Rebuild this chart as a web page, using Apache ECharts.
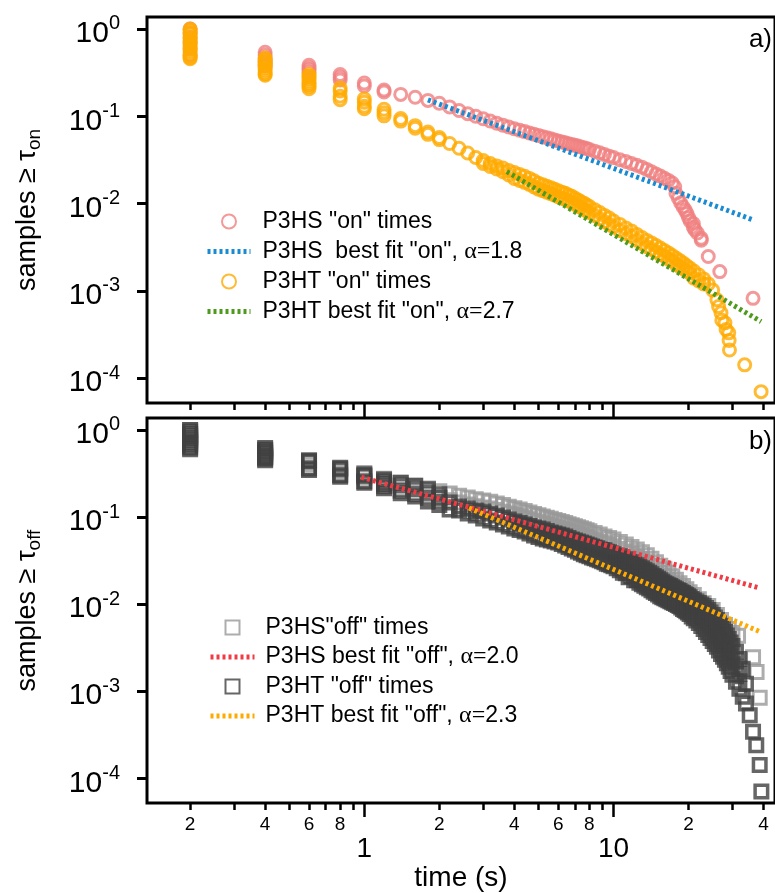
<!DOCTYPE html>
<html><head><meta charset="utf-8">
<script src="https://cdn.jsdelivr.net/npm/echarts@6.0.0/dist/echarts.min.js"></script>
<style>html,body{margin:0;padding:0;background:#fff;}#c{width:775px;height:893px;}</style>
</head><body><div id="c"></div>
<script>
// ---------------- data ----------------
// Each time value carries one reading or a stack of readings (ties at the same time).
const onP3HS_t = [0.2,0.4,0.6,0.8,1.0,1.2,1.4,1.6,1.8,2.0,2.2,2.4,2.6,2.8,3.0,3.2,3.4,3.6,3.8,4.0,4.2,4.4,4.6,4.8,5.0,5.2,5.4,5.6,5.8,6.0,6.2,6.4,6.6,6.8,7.0,7.2,7.4,7.6,7.8,8.0,8.4,8.8,9.2,9.6,10,10.6,11.2,11.8,12.4,13,13.6,14.2,14.8,15.4,16,16.6,17.2,17.6,17.8,18.2,18.6,19.0,19.4,19.7,20.0,20.3,20.9,21.2,21.7,22.5,24.0,26.7,36.3];
const onP3HS_v = [[1.0,0.9,0.8,0.7,0.6,0.5],[0.54,0.5,0.46,0.42,0.38],[0.384,0.36,0.34,0.32],[0.30,0.28,0.26],[0.24,0.222],[0.2,0.19],0.178,0.165,0.152,0.141,0.128,0.1165,0.107,0.1,0.0936,0.0883,0.0834,0.0791,0.0752,0.0719,0.0691,0.0667,0.0643,0.0621,0.0603,0.0584,0.0567,0.0551,0.0535,0.0521,0.0508,0.0497,0.0485,0.0475,0.0464,0.0455,0.0445,0.0436,0.0427,0.0417,0.0398,0.0381,0.0364,0.0349,0.0336,0.0318,0.0304,0.0288,0.0275,0.0261,0.0246,0.0231,0.0218,0.0207,0.0195,0.0184,0.0172,0.0156,0.0131,0.0115,0.0102,0.0092,0.0084,0.0077,0.0069,0.0063,[0.0059,0.0054],0.005,0.0046,[0.004,0.0038],0.00247,0.00166,0.00082];

const onP3HT_t = [0.2,0.4,0.6,0.8,1.0,1.2,1.4,1.6,1.8,2.0,2.2,2.4,2.6,2.8,3.0,3.2,3.4,3.6,3.8,4.0,4.2,4.4,4.6,4.8,5.0,5.2,5.4,5.6,5.8,6.0,6.2,6.4,6.6,6.8,7.0,7.2,7.4,7.6,7.8,8.0,8.4,8.8,9.2,9.6,10,10.6,11.2,11.8,12.4,13,13.6,14.2,14.8,15.4,16,16.6,17.2,17.8,18.4,19,19.6,20.2,21,22,23,24,25,26,26.4,27,27.2,28,28.3,29,29.1,29.2,33.6,39.1];
const onP3HT_v = [[1.0,0.95,0.9,0.85,0.8,0.75,0.71,0.67,0.63,0.59,0.56,0.53,0.5,0.47,0.457],[0.465,0.44,0.42,0.40,0.38,0.36,0.34,0.32,0.305,0.295],[0.30,0.285,0.27,0.255,0.24,0.23,0.22,0.207],[0.211,0.195,0.17,0.155],[0.158,0.145,0.13,0.122],[0.12,0.11,0.101],[0.094,0.088],[0.078,0.073],[0.066,0.062],[0.057,0.054],0.0488,0.043,0.0379,0.0337,
  [0.0311,0.0288],[0.0288,0.0266],[0.027,0.0249],[0.0255,0.0232],[0.0239,0.0213],[0.0227,0.0194],[0.0215,0.0184],[0.0205,0.0175],[0.0194,0.0166],[0.0182,0.0155],[0.0171,0.0146],[0.0164,0.014],[0.0158,0.0135],[0.0152,0.013],[0.0146,0.0125],[0.014,0.012],[0.0135,0.0115],[0.0131,0.0112],[0.0125,0.0107],[0.0121,0.0103],[0.0115,0.0098],[0.011,0.0094],[0.0105,0.009],[0.0101,0.0086],[0.00964,0.0082],[0.00926,0.0079],[0.00851,0.0073],[0.0079,0.0067],[0.00731,0.0062],[0.00684,0.0058],[0.00632,0.0054],[0.00577,0.0049],[0.00526,0.0045],[0.00486,0.0042],[0.00443,0.0038],[0.00409,0.0035],[0.00378,0.0032],[0.00354,0.003],[0.00331,0.0028],[0.0031,0.0026],[0.0029,0.0025],[0.00272,0.0023],[0.00254,0.0022],[0.00238,0.002],[0.00223,0.0019],[0.00209,0.0018],[0.00195,0.0017],[0.00183,0.0016],[0.00169,0.0014],[0.00152,0.0013],[0.00137,0.0012],
  0.0012,0.00102,0.00079,0.00066,0.00056,0.00046,0.00043,0.00036,0.00033,0.00027,0.00021,0.000142,0.00007];

const fitOnP3HS_t = [1.8, 36.3];
const fitOnP3HS_v = [0.154, 0.0065];
const fitOnP3HT_t = [3.73, 39.1];
const fitOnP3HT_v = [0.0232, 0.000444];

const offP3HS_t = [0.2,0.4,0.6,0.8,1.0,1.2,1.4,1.6,1.8,2.0,2.2,2.4,2.6,2.8,3.0,3.2,3.4,3.6,3.8,4.0,4.2,4.4,4.6,4.8,5.0,5.2,5.4,5.6,5.8,6.0,6.2,6.4,6.6,6.8,7.0,7.2,7.4,7.6,7.8,8.0,8.4,8.8,9.2,9.6,10,10.6,11.2,11.8,12.4,13,13.6,14.2,14.8,15.4,16,16.6,17.2,17.8,18.4,19,19.6,20.2,21,22,23,24,25,26,27,28,29,30,31.6,36.3,37.5,38.6];
const offP3HS_v = [[1.0,0.9,0.8,0.7,0.62],[0.6,0.55,0.5,0.47],[0.44,0.4,0.37],[0.36,0.33,0.31],[0.32,0.3,0.285],[0.275,0.245],[0.248,0.21],[0.229,0.193],[0.212,0.178],[0.198,0.166],[0.186,0.156],[0.176,0.147],[0.167,0.139],[0.16,0.133],[0.155,0.129],[0.15,0.125],[0.1434,0.12],[0.137,0.115],[0.1315,0.11],[0.1264,0.106],[0.1217,0.102],[0.117,0.098],[0.1125,0.094],[0.108,0.091],[0.1045,0.088],[0.1013,0.085],[0.098,0.082],[0.0953,0.08],[0.0925,0.077],[0.09,0.075],[0.0875,0.073],[0.0851,0.071],[0.0828,0.069],[0.0805,0.067],[0.0783,0.065],[0.0762,0.064],[0.0742,0.062],[0.0723,0.06],[0.0705,0.059],[0.0688,0.057],[0.0656,0.055],[0.0628,0.052],[0.0598,0.05],[0.0575,0.048],[0.0553,0.046],[0.0518,0.043],[0.0485,0.04],[0.0454,0.038],[0.0425,0.035],[0.0393,0.033],[0.0363,0.03],[0.0331,0.0275],[0.0302,0.025],[0.0275,0.023],[0.0251,0.021],[0.0229,0.019],[0.0209,0.0174],[0.0191,0.0159],[0.0174,0.0145],[0.0161,0.0134],[0.0148,0.0123],[0.0137,0.0114],[0.0127,0.0106],[0.0114,0.0095],[0.01026,0.0085],[0.0095,0.0079],[0.00853,0.0071],[0.00748,0.0062],[0.00656,0.0055],[0.00575,0.0048],0.00518,0.00466,0.00434,0.00246,0.00166,0.00084];

const offP3HT_t = [0.2,0.4,0.6,0.8,1.0,1.2,1.4,1.6,1.8,2.0,2.2,2.4,2.6,2.8,3.0,3.2,3.4,3.6,3.8,4.0,4.2,4.4,4.6,4.8,5.0,5.2,5.4,5.6,5.8,6.0,6.2,6.4,6.6,6.8,7.0,7.2,7.4,7.6,7.8,
  8.0,8.2,8.4,8.6,8.8,9.0,9.2,9.4,9.6,9.8,10,10.3,10.6,10.9,11.2,11.5,11.8,12.1,12.4,12.7,13,13.3,13.6,13.9,14.2,14.5,14.8,15.1,15.4,15.7,16,16.3,16.6,16.9,17.2,17.5,17.8,18.1,18.4,18.7,19,19.3,19.6,19.9,20.2,20.6,21,21.5,22,22.5,23,23.5,24,24.5,25,25.5,26,26.5,27,27.5,28,28.5,29,29.5,30,31,32,33,34,35.2,36.3,37.4,38.6,39.2];
const offP3HT_v = [[1.0,0.95,0.9,0.85,0.8,0.76,0.72,0.68,0.64,0.6],[0.62,0.59,0.56,0.535,0.51,0.49,0.47,0.45],[0.45,0.435,0.36,0.346],[0.368,0.354,0.302,0.29],[0.309,0.298,0.258,0.248],[0.27,0.255,0.24,0.225,0.2134],[0.248,0.23,0.2,0.187],[0.229,0.21,0.183,0.1716],[0.208,0.19,0.165,0.1504],[0.1823,0.166,0.15,0.1378],[0.1465,0.1218],[0.1318,0.1187],[0.125,0.1096],[0.1187,0.104],[0.1156,0.0961],[0.1096,0.0912],[0.104,0.0865],[0.0987,0.082],[0.0936,0.0779],[0.0889,0.0739],[0.0854,0.071],[0.082,0.0683],[0.0789,0.0648],[0.0759,0.0615],[0.0739,0.0591],[0.072,0.0568],[0.0692,0.0553],[0.0665,0.0539],[0.0648,0.0525],[0.0631,0.0511],[0.0615,0.0491],[0.0599,0.0472],[0.0575,0.0454],[0.0553,0.0436],[0.0539,0.042],[0.0525,0.0403],[0.0511,0.0388],[0.0498,0.0373],[0.0485,0.0363],
  [0.0472,0.0354],[0.046,0.0344],[0.0448,0.0336],[0.0437,0.0327],[0.0425,0.0318],[0.0418,0.031],[0.0414,0.0302],[0.0399,0.0291],[0.0393,0.0286],[0.0381,0.0279],[0.0373,0.0272],
  [0.0358,0.0304,0.0258],[0.0354,0.0294,0.0245],[0.0331,0.0275,0.0229],[0.0327,0.0272,0.0226],[0.0306,0.0249,0.0204],[0.0302,0.0251,0.0209],[0.0286,0.0232,0.0188],[0.0279,0.0229,0.0188],[0.0267,0.0217,0.0176],[0.0258,0.0209,0.0169],[0.0248,0.0201,0.0163],[0.0238,0.0193,0.0156],[0.0229,0.0186,0.0151],[0.022,0.0178,0.0144],[0.021,0.0171,0.0139],[0.0204,0.0165,0.0134],[0.0195,0.0158,0.0129],[0.0188,0.0152,0.0123],[0.018,0.0147,0.012],[0.0174,0.0143,0.0117],[0.0169,0.0139,0.0114],[0.0165,0.0135,0.0111],[0.0161,0.0132,0.0108],[0.0156,0.0128,0.0105],[0.0152,0.0125,0.0103],[0.0148,0.0122,0.01],[0.0144,0.0119,0.00975],[0.0141,0.0116,0.0095],[0.0137,0.0112,0.00912],[0.0134,0.0108,0.00877],[0.013,0.0105,0.00853],[0.0127,0.0103,0.0083],[0.0123,0.00995,0.008],[0.012,0.0096,0.00769],[0.0115,0.0091,0.0072],[0.0111,0.00877,0.0069],[0.0107,0.0083,0.00648],[0.0103,0.00789,0.00607],[0.00987,0.00745,0.00561],[0.0095,0.00701,0.00518],[0.009,0.00656,0.00479],[0.00853,0.00615,0.00442],[0.008,0.00573,0.00409],[0.00748,0.00532,0.00378],[0.00701,0.00495,0.00349],[0.00656,0.0046,0.00323],[0.00607,0.00423,0.00294],[0.00561,0.00388,0.00268],[0.00518,0.00358,0.00248],[0.00479,0.00331,0.00229],[0.00437,0.00302,0.00209],[0.00398,0.00275,0.00191],[0.00363,0.0025,0.00171],[0.00331,0.00226,0.00154],[0.00283,0.00191,0.00128],[0.00235,0.00158,0.00107],[0.00181,0.000865],[0.00122,0.00072],
  0.000529,0.000342,0.00024,0.000142,0.0000705];

const fitOffP3HS_t = [0.973, 38.0];
const fitOffP3HS_v = [0.286, 0.0155];
const fitOffP3HT_t = [2.63, 39.2];
const fitOffP3HT_v = [0.127, 0.00475];

// tick marks / labels
const xTicksMinor = [0.2,0.3,0.4,0.5,0.6,0.7,0.8,0.9,2,3,4,5,6,7,8,9,20,30,40];
const xLabelsMinor = [0.2,0.4,0.6,0.8,2,4,6,8,20,40];
const xTicksMajor = [1,10];
const yDecades = [-4,-3,-2,-1,0];

const names = {
  a1:'P3HS "on" times', a2:'P3HS  best fit "on", α=1.8', a3:'P3HT "on" times', a4:'P3HT best fit "on", α=2.7',
  b1:'P3HS"off" times', b2:'P3HS best fit "off", α=2.0', b3:'P3HT "off" times', b4:'P3HT best fit "off", α=2.3'
};

// ---------------- layout / styling ----------------
const FONT = "'Liberation Sans', Arial, Helvetica, sans-serif";
const X_LOG_MIN = -0.872, X_LOG_MAX = 1.648;
const Y_LOG_MIN = -4.285, Y_LOG_MAX = 0.137;

function toPairs(t, v){
  const out = [];
  t.forEach((x,i)=>{ (Array.isArray(v[i]) ? v[i] : [v[i]]).forEach(y=>out.push([x,y])); });
  return out;
}
const log10 = Math.log10;
function mantissa(v){ const t = Math.pow(10, v); const e = Math.floor(v + 1e-9); return String(Math.round(t / Math.pow(10, e))); }

function xAxesFor(grid, withLabels){
  const base = {type:'value', gridIndex:grid, min:X_LOG_MIN, max:X_LOG_MAX, position:'bottom',
    axisLine:{show:false, onZero:false}, splitLine:{show:false}};
  return [
    {type:'log', gridIndex:grid, min:Math.pow(10,X_LOG_MIN), max:Math.pow(10,X_LOG_MAX), show:false},
    Object.assign({}, base, {
      axisTick:{show:true, inside:false, length:7, lineStyle:{color:'#000', width:2.5}, customValues:xTicksMinor.map(log10)},
      axisLabel: withLabels ? {show:true, customValues:xLabelsMinor.map(log10), formatter:mantissa, fontSize:19, color:'#000', fontFamily:FONT, margin:12} : {show:false}
    }),
    Object.assign({}, base, {
      axisTick:{show:true, inside:false, length:14, lineStyle:{color:'#000', width:2.5}, customValues:xTicksMajor.map(log10)},
      axisLabel: withLabels ? {show:true, customValues:xTicksMajor.map(log10), formatter:v=>String(Math.round(Math.pow(10,v))), fontSize:28, color:'#000', fontFamily:FONT, margin:32} : {show:false},
      name: withLabels ? 'time (s)' : '', nameLocation:'middle', nameGap:59,
      nameTextStyle:{fontSize:28, color:'#000', fontFamily:FONT}
    })
  ];
}
function yAxesFor(grid, sub){
  return [
    {type:'log', gridIndex:grid, min:Math.pow(10,Y_LOG_MIN), max:Math.pow(10,Y_LOG_MAX), show:false},
    {type:'value', gridIndex:grid, min:Y_LOG_MIN, max:Y_LOG_MAX, position:'left',
      axisLine:{show:false, onZero:false}, splitLine:{show:false},
      axisTick:{show:true, length:10, lineStyle:{color:'#000', width:3}, customValues:yDecades},
      axisLabel:{show:true, customValues:yDecades, margin:27,
        formatter:v=>'{b|10}{s|' + Math.round(v) + '}',
        rich:{b:{fontSize:30, fontFamily:FONT, color:'#000', lineHeight:30, padding:[10,0,0,0]},
              s:{fontSize:20, fontFamily:FONT, color:'#000', lineHeight:20, verticalAlign:'top'}}},
      name:'{m|samples ≥ τ}{sub|' + sub + '}', nameLocation:'middle', nameGap:103, nameRotate:90,
      nameTextStyle:{rich:{m:{fontSize:27, fontFamily:FONT, color:'#000', lineHeight:32},
                           sub:{fontSize:19, fontFamily:FONT, color:'#000', lineHeight:19, verticalAlign:'bottom'}}}}
  ];
}

function legendFmt(name){
  if (name.indexOf('α=') >= 0){
    const parts = name.split('α=');
    return '{t|' + parts[0] + '}{g|α=}{u|' + parts[1] + '}';
  }
  return '{t|' + name + '}';
}
const lineIconHidden = {color:'rgba(0,0,0,0)', borderColor:'rgba(0,0,0,0)', borderWidth:0, opacity:0};
function legendFor(items, left, top, iw, gap, pad){
  return {data:items, orient:'vertical', left:left, top:top, itemWidth:iw, itemHeight:14, itemGap:gap, padding:0,
    selectedMode:false, formatter:legendFmt,
    lineStyle:{width:5, type:[3,3]},
    textStyle:{color:'#000', fontFamily:FONT, fontSize:23,
      rich:{t:{fontSize:23, fontFamily:FONT, color:'#000', lineHeight:22, padding:[0,0,0,pad]},
            u:{fontSize:23, fontFamily:FONT, color:'#000', lineHeight:22},
            g:{fontSize:24, fontFamily:"'Liberation Serif','DejaVu Serif',serif", color:'#000', lineHeight:22}}}};
}
const SQUARE = 'path://M0,0H10V10H0Z';

const ringStyle = (c,w) => ({color:'rgba(0,0,0,0)', borderColor:c, borderWidth:w});
const dotted = c => ({color:c, width:5, type:[3,3]});

const option = {
  animation:false,
  backgroundColor:'#fff',
  title:[
    {text:'a)', right:3, top:27, padding:0, textStyle:{fontSize:26, fontWeight:'normal', fontFamily:FONT, color:'#000'}},
    {text:'b)', right:3, top:429, padding:0, textStyle:{fontSize:26, fontWeight:'normal', fontFamily:FONT, color:'#000'}}
  ],
  grid:[
    {left:147, top:17, width:630, height:386, show:true, borderColor:'#000', borderWidth:3, backgroundColor:'rgba(0,0,0,0)'},
    {left:147, top:418, width:630, height:387, show:true, borderColor:'#000', borderWidth:3, backgroundColor:'rgba(0,0,0,0)'}
  ],
  xAxis: xAxesFor(0,false).concat(xAxesFor(1,true)),
  yAxis: yAxesFor(0,'on').concat(yAxesFor(1,'off')),
  legend:[
    legendFor([
      {name:names.a1, itemStyle:{borderWidth:2}},
      {name:names.a2, itemStyle:lineIconHidden},
      {name:names.a3, itemStyle:{borderWidth:2}},
      {name:names.a4, itemStyle:lineIconHidden}], 205, 210, 43, 6.5, 7),
    legendFor([
      {name:names.b1, icon:SQUARE, itemStyle:{borderWidth:2}},
      {name:names.b2, itemStyle:lineIconHidden},
      {name:names.b3, icon:SQUARE, itemStyle:{borderWidth:2}},
      {name:names.b4, itemStyle:lineIconHidden}], 208, 616, 44, 6, 6)
  ],
  series:[
    {name:names.a1, type:'scatter', xAxisIndex:0, yAxisIndex:0, symbol:'circle', symbolSize:12, itemStyle:ringStyle('#f08080',3), data:toPairs(onP3HS_t,onP3HS_v), silent:true},
    {name:names.a2, type:'line', xAxisIndex:0, yAxisIndex:0, symbol:'none', lineStyle:dotted('#1a8bd2'), itemStyle:{color:'#1a8bd2'}, data:toPairs(fitOnP3HS_t,fitOnP3HS_v), silent:true},
    {name:names.a3, type:'scatter', xAxisIndex:0, yAxisIndex:0, symbol:'circle', symbolSize:12, itemStyle:ringStyle('#ffaa00',3), data:toPairs(onP3HT_t,onP3HT_v), silent:true},
    {name:names.a4, type:'line', xAxisIndex:0, yAxisIndex:0, symbol:'none', lineStyle:dotted('#4e9a1c'), itemStyle:{color:'#4e9a1c'}, data:toPairs(fitOnP3HT_t,fitOnP3HT_v), silent:true},
    {name:names.b1, type:'scatter', xAxisIndex:3, yAxisIndex:2, symbol:'rect', symbolSize:13, itemStyle:ringStyle('#999999',3), data:toPairs(offP3HS_t,offP3HS_v), silent:true},
    {name:names.b2, type:'line', xAxisIndex:3, yAxisIndex:2, symbol:'none', lineStyle:dotted('#f03a44'), itemStyle:{color:'#f03a44'}, data:toPairs(fitOffP3HS_t,fitOffP3HS_v), silent:true},
    {name:names.b3, type:'scatter', xAxisIndex:3, yAxisIndex:2, symbol:'rect', symbolSize:12.5, itemStyle:ringStyle('#404040',3.5), data:toPairs(offP3HT_t,offP3HT_v), silent:true},
    {name:names.b4, type:'line', xAxisIndex:3, yAxisIndex:2, symbol:'none', lineStyle:dotted('#ffaa00'), itemStyle:{color:'#ffaa00'}, data:toPairs(fitOffP3HT_t,fitOffP3HT_v), silent:true}
  ]
};
const chart = echarts.init(document.getElementById('c'), null, {renderer:'canvas'});
chart.setOption(option);
</script></body></html>
